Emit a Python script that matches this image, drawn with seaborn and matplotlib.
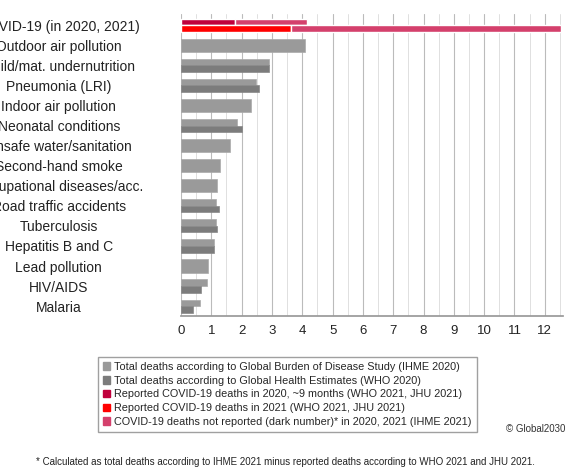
import numpy as np
import pandas as pd
import matplotlib
matplotlib.use("Agg")
import matplotlib.pyplot as plt
import seaborn as sns
from matplotlib.patches import Patch

categories = ["COVID-19 (in 2020, 2021)", "Outdoor air pollution", "Child/mat. undernutrition",
              "Pneumonia (LRI)", "Indoor air pollution", "Neonatal conditions",
              "Unsafe water/sanitation", "Second-hand smoke", "Occupational diseases/acc.",
              "Road traffic accidents", "Tuberculosis", "Hepatitis B and C",
              "Lead pollution", "HIV/AIDS", "Malaria"]
ihme = [np.nan, 4.1, 2.9, 2.49, 2.3, 1.85, 1.63, 1.27, 1.2, 1.17, 1.16, 1.08, 0.88, 0.85, 0.63]
who = [np.nan, np.nan, 2.9, 2.57, np.nan, 2.01, np.nan, np.nan, np.nan, 1.26, 1.19, 1.08, np.nan, 0.66, 0.41]
covid_reported = [1.77, 3.62]   # 2020, 2021
covid_total = [4.17, 12.52]     # 2020, 2021 incl. dark number

c_ihme, c_who = "#9a9a9a", "#7c7c7c"
c_r20, c_r21, c_dark = "#c0003c", "#ff0000", "#d4406c"

sns.set_theme(style="white")
plt.rcParams['font.family'] = ['Liberation Sans', 'DejaVu Sans']
fig = plt.figure(figsize=(5.71, 4.74), dpi=100)
ax = fig.add_axes([0.317, 0.333, 0.669, 0.637])

h = 0.33
for i in range(1, len(categories)):
    if np.isnan(who[i]):
        ax.barh(i, ihme[i], height=2*h, color=c_ihme, edgecolor="#aaaaaa", linewidth=0.5)
    else:
        ax.barh(i - h/2, ihme[i], height=h, color=c_ihme, edgecolor="#aaaaaa", linewidth=0.5)
        ax.barh(i + h/2, who[i], height=h, color=c_who, edgecolor="#888888", linewidth=0.5)
ax.barh(-h/2, covid_reported[0], height=h, color=c_r20)
ax.barh(-h/2, covid_total[0] - covid_reported[0], left=covid_reported[0], height=h, color=c_dark)
ax.barh(h/2, covid_reported[1], height=h, color=c_r21)
ax.barh(h/2, covid_total[1] - covid_reported[1], left=covid_reported[1], height=h, color=c_dark)

ax.set_yticks(range(len(categories)))
ax.set_yticklabels(categories, fontsize=10, color="#222222", ha="center")
ax.tick_params(axis='y', length=0, pad=88)
ax.set_ylim(len(categories) - 0.5, -0.55)
ax.set_xlim(0, 12.6)
ax.set_xticks(range(13))
ax.set_xticks(np.arange(0.5, 12.6, 1), minor=True)
ax.tick_params(axis='x', labelsize=9.5, colors="#222222", length=3, which='major')
ax.grid(axis='x', which='major', color="#bbbbbb", linewidth=0.8)
ax.grid(axis='x', which='minor', color="#e0e0e0", linewidth=0.7)
ax.set_axisbelow(True)
for s in ["top", "right", "left"]:
    ax.spines[s].set_visible(False)
ax.spines["bottom"].set_color("#999999")

handles = [Patch(color=c_ihme, label="Total deaths according to Global Burden of Disease Study (IHME 2020)"),
           Patch(color=c_who, label="Total deaths according to Global Health Estimates (WHO 2020)"),
           Patch(color=c_r20, label="Reported COVID-19 deaths in 2020, ~9 months (WHO 2021, JHU 2021)"),
           Patch(color=c_r21, label="Reported COVID-19 deaths in 2021 (WHO 2021, JHU 2021)"),
           Patch(color=c_dark, label="COVID-19 deaths not reported (dark number)* in 2020, 2021 (IHME 2021)")]
fig.legend(handles=handles, loc="center", bbox_to_anchor=(0.503, 0.168), fontsize=7.8,
           frameon=True, edgecolor="#888888", fancybox=False, handlelength=0.7, handleheight=0.7,
           handletextpad=0.4, labelspacing=0.35, borderpad=0.45)
fig.text(0.99, 0.088, "© Global2030", ha="right", fontsize=7, color="#333333")
fig.text(0.5, 0.018, "* Calculated as total deaths according to IHME 2021 minus reported deaths according to WHO 2021 and JHU 2021.",
         ha="center", fontsize=7, color="#222222")
fig.savefig("out.png", dpi=100)
